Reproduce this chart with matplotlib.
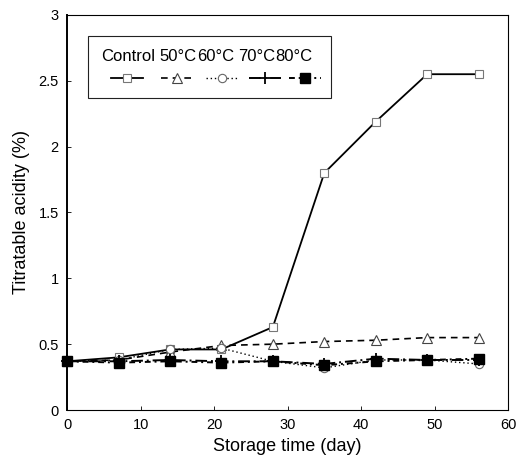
import matplotlib
matplotlib.use("Agg")
import matplotlib.pyplot as plt
from matplotlib.lines import Line2D
from matplotlib.patches import Rectangle

plt.rcParams['font.family'] = ['Liberation Sans', 'DejaVu Sans']

days = [0, 7, 14, 21, 28, 35, 42, 49, 56]
control = [0.37, 0.40, 0.46, 0.46, 0.63, 1.80, 2.19, 2.55, 2.55]
t50 = [0.37, 0.38, 0.44, 0.49, 0.50, 0.52, 0.53, 0.55, 0.55]
t60 = [0.37, 0.38, 0.46, 0.47, 0.37, 0.32, 0.38, 0.38, 0.35]
t70 = [0.37, 0.37, 0.38, 0.37, 0.37, 0.35, 0.39, 0.38, 0.38]
t80 = [0.37, 0.36, 0.37, 0.36, 0.37, 0.34, 0.37, 0.38, 0.39]
labels = ["Control", "50\u00b0C", "60\u00b0C", "70\u00b0C", "80\u00b0C"]
xticks = [0, 10, 20, 30, 40, 50, 60]
yticks = [0, 0.5, 1, 1.5, 2, 2.5, 3]
yticklabels = ["0", "0.5", "1", "1.5", "2", "2.5", "3"]

lines_st = [
    dict(color='black', lw=1.3, ls='-'),
    dict(color='black', lw=1.2, ls=(0, (4, 3))),
    dict(color='black', lw=1.0, ls=(0, (1, 2))),
    dict(color='black', lw=1.4, ls=(0, (6, 2, 1, 2))),
    dict(color='black', lw=1.4, ls=(0, (3, 2, 1, 2))),
]
marks_st = [
    dict(marker='s', ms=6, mfc='white', mec='#777777', mew=0.8),
    dict(marker='^', ms=7, mfc='white', mec='#444444', mew=0.8),
    dict(marker='o', ms=6, mfc='white', mec='#666666', mew=0.8),
    dict(marker='+', ms=9, mfc='black', mec='black', mew=1.3),
    dict(marker='s', ms=7, mfc='black', mec='black', mew=1.0),
]
series = [control, t50, t60, t70, t80]

fig = plt.figure(figsize=(5.2, 4.67), dpi=100)
ax = fig.add_axes([0.129, 0.122, 0.848, 0.846])

for s, ls_, ms_ in zip(series, lines_st, marks_st):
    ax.plot(days, s, clip_on=False, zorder=3, **ls_, **ms_)

ax.set_xlim(0, 60)
ax.set_ylim(0, 3)
ax.set_xticks(xticks)
ax.set_yticks(yticks)
ax.set_yticklabels(yticklabels)
ax.tick_params(direction='in', length=3, width=0.6, labelsize=10.5, pad=6)
for sp in ax.spines.values():
    sp.set_linewidth(0.8)
ax.spines['left'].set_linewidth(1.4)
ax.set_xlabel("Storage time (day)", fontsize=13, labelpad=4)
ax.set_ylabel("Titratable acidity (%)", fontsize=13, labelpad=6)

# manual legend (labels above samples)
ax.add_patch(Rectangle((0.0476, 0.790), 0.551, 0.157, transform=ax.transAxes,
                       fill=True, facecolor='white', edgecolor='#222222', lw=0.8, zorder=5))
label_x = [0.138, 0.252, 0.338, 0.431, 0.515]
marker_x = [0.136, 0.249, 0.351, 0.449, 0.540]
for lab, lx, mx, ls_, ms_ in zip(labels, label_x, marker_x, lines_st, marks_st):
    ax.text(lx, 0.894, lab, transform=ax.transAxes, ha='center', va='center',
            fontsize=12, zorder=6)
    ax.add_line(Line2D([mx - 0.036, mx + 0.036], [0.841, 0.841], transform=ax.transAxes,
                       zorder=6, marker='none', **ls_))
    ax.add_line(Line2D([mx], [0.841], transform=ax.transAxes, zorder=7,
                       ls='none', **ms_))

fig.savefig("out.png", dpi=100)
